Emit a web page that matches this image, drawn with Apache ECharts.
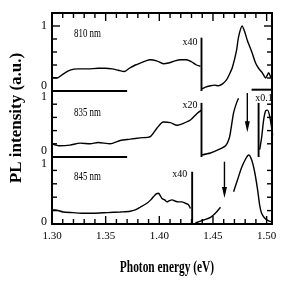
<!DOCTYPE html>
<html><head><meta charset="utf-8">
<script src="https://cdn.jsdelivr.net/npm/echarts@6/dist/echarts.min.js"></script>
<style>html,body{margin:0;padding:0;background:#fff}#c{width:290px;height:290px}</style>
</head><body><div id="c"></div>
<script>
const SERIF = '"Liberation Serif","Times New Roman",serif';
const xMin = 1.30, xMax = 1.505;
const panelNames = ['810 nm', '835 nm', '845 nm'];
const xTitle = 'Photon energy (eV)';
const yTitle = 'PL intensity (a.u.)';
const xMajorTicks = [1.30, 1.35, 1.40, 1.45, 1.50];
const xMinorTicks = [1.31, 1.32, 1.33, 1.34, 1.36, 1.37, 1.38, 1.39, 1.41, 1.42, 1.43, 1.44, 1.46, 1.47, 1.48, 1.49];
const yMinorTicks = [0.2, 0.4, 0.6, 0.8];
const yMajorTicks = [1.0];

// 810 nm panel
const seg810a = [[1.300,0.21],[1.3047,0.20],[1.3103,0.26],[1.3168,0.32],[1.3243,0.34],[1.3336,0.34],[1.3430,0.35],[1.3495,0.35],[1.3561,0.34],[1.3617,0.32],[1.3673,0.30],[1.3720,0.35],[1.3776,0.40],[1.3822,0.43],[1.3869,0.46],[1.3916,0.48],[1.3981,0.46],[1.4037,0.42],[1.4084,0.43],[1.4140,0.46],[1.4196,0.48],[1.4252,0.48],[1.4299,0.45],[1.4346,0.40],[1.4383,0.38]];
const seg810b = [[1.4393,0.03],[1.4430,0.06],[1.4477,0.08],[1.4514,0.09],[1.4551,0.08],[1.4589,0.11],[1.4626,0.17],[1.4654,0.26],[1.4682,0.37],[1.4720,0.63],[1.4738,0.83],[1.4771,1.00],[1.4794,0.92],[1.4820,0.78],[1.4866,0.58],[1.4897,0.43],[1.4925,0.35],[1.4960,0.28],[1.4991,0.20],[1.5019,0.28],[1.5037,0.22],[1.5056,0.17]];
const mark810 = [1.4393, 0.82];
const base810 = [[1.300,0],[1.370,0]];

// 835 nm panel
const seg835a = [[1.300,0.20],[1.3075,0.17],[1.3168,0.18],[1.3262,0.21],[1.3355,0.20],[1.3430,0.22],[1.3542,0.20],[1.3636,0.25],[1.3729,0.27],[1.3822,0.29],[1.3916,0.31],[1.3979,0.44],[1.4037,0.53],[1.4103,0.52],[1.4165,0.48],[1.4224,0.51],[1.4290,0.56],[1.4352,0.66],[1.4393,0.71]];
const seg835b = [[1.4393,0.03],[1.4477,0.06],[1.4551,0.11],[1.4617,0.17],[1.4654,0.30],[1.4673,0.48],[1.4692,0.67],[1.4720,0.82],[1.4738,0.89]];
const seg835c = [[1.4935,0.11],[1.4953,0.29],[1.4972,0.56],[1.4991,0.70],[1.5009,0.71],[1.5028,0.62],[1.5047,0.44],[1.5056,0.33]];
const mark835 = [1.4393, 0.82];
const mark835b = [1.4925, 0.82];
const arrow835 = [1.4820, 0.97, 0.46];
const bar835 = [[1.4860,1.02],[1.5056,1.02]];
const base835 = [[1.300,0],[1.370,0]];

// 845 nm panel
const seg845a = [[1.300,0.21],[1.3028,0.21],[1.3103,0.18],[1.3196,0.17],[1.3290,0.16],[1.3383,0.16],[1.3514,0.17],[1.3636,0.18],[1.3729,0.19],[1.3776,0.21],[1.3822,0.25],[1.3885,0.31],[1.3920,0.36],[1.3947,0.41],[1.3972,0.45],[1.3993,0.46],[1.4010,0.42],[1.4025,0.38],[1.4050,0.36],[1.4072,0.33],[1.4095,0.35],[1.4119,0.36],[1.4150,0.34],[1.4180,0.33],[1.4210,0.33],[1.4243,0.31],[1.4270,0.29],[1.4290,0.23]];
const seg845b = [[1.4336,0.015],[1.4411,0.06],[1.4477,0.10],[1.4533,0.18],[1.4570,0.25]];
const seg845c = [[1.4692,0.48],[1.4729,0.66],[1.4766,0.84],[1.4804,0.97],[1.4832,1.03],[1.4860,0.96],[1.4888,0.78],[1.4916,0.51],[1.4935,0.28],[1.4953,0.16],[1.4981,0.09],[1.5019,0.045],[1.5056,0.03]];
const mark845 = [1.4306, 0.78];
const arrow845 = [1.4607, 0.93, 0.47];

const yMaxes = [1.2, 1, 1];
const xIdx = [0, 1, 2], yIdx = [0, 2, 4];

function ln(data, gi, extra) {
  return Object.assign({
    type: 'line', xAxisIndex: xIdx[gi], yAxisIndex: yIdx[gi], data,
    symbol: 'none', showSymbol: false, clip: false, silent: true, animation: false,
    lineStyle: { color: '#000', width: 1.4 }, itemStyle: { color: '#000' }
  }, extra || {});
}
function marker(m, gi, text, position, offset) {
  return ln([[m[0], 0], { value: [m[0], m[1]], label: { show: true, position, offset, formatter: text, fontSize: 10, fontFamily: SERIF, color: '#000' } }], gi,
    { symbol: 'circle', symbolSize: 0, showSymbol: true, lineStyle: { color: '#000', width: 1.9 } });
}
function arrow(a, gi) {
  return ln([{ value: [a[0], a[1]], symbol: 'none' }, [a[0], a[2]]], gi,
    { symbol: 'triangle', symbolSize: [5, 11], symbolRotate: 180, showSymbol: true, lineStyle: { color: '#000', width: 1.4 } });
}
// tick marks drawn through the axes' own scales (api.coord)
function ticks(gi, side, values, len) {
  const data = values.map(v => side === 'top' ? [v, yMaxes[gi]] : side === 'bottom' ? [v, 0] : side === 'left' ? [xMin, v] : [xMax, v]);
  return {
    type: 'custom', xAxisIndex: xIdx[gi], yAxisIndex: yIdx[gi], silent: true, animation: false, clip: false, data,
    renderItem: (params, api) => {
      const p = api.coord([api.value(0), api.value(1)]);
      const d = side === 'top' ? [0, len] : side === 'bottom' ? [0, -len] : side === 'left' ? [len, 0] : [-len, 0];
      return { type: 'line', shape: { x1: p[0], y1: p[1], x2: p[0] + d[0], y2: p[1] + d[1] }, style: { stroke: '#000', lineWidth: 1.4 } };
    }
  };
}

function xAx(gi, position, labels) {
  return { gridIndex: gi, type: 'value', position, min: xMin, max: xMax, interval: 0.05,
    axisLine: { show: true, onZero: false, lineStyle: { color: '#000', width: 2 } },
    axisTick: { show: false },
    axisLabel: { show: labels, margin: 7, fontSize: 11, fontFamily: SERIF, color: '#000',
      formatter: v => v > 1.501 ? '' : v.toFixed(2) },
    splitLine: { show: false } };
}
const richStyles = {};
[4, 10, 12, 14].forEach(h => richStyles['r' + h] = { fontSize: 12, fontFamily: SERIF, color: '#000', lineHeight: h });
function lab(txt, lh, dir) {
  if (!lh) return txt;
  return dir === 'up' ? `{r${lh}|${txt}}\n{r${lh}| }` : `{r${lh}| }\n{r${lh}|${txt}}`;
}
function yL(gi, one, zero) {
  return { gridIndex: gi, type: 'value', position: 'left', min: 0, max: yMaxes[gi], interval: 0.2,
    axisLine: { show: true, onZero: false, lineStyle: { color: '#000', width: 2 } },
    axisTick: { show: false },
    axisLabel: { margin: 5, fontSize: 12, fontFamily: SERIF, color: '#000', rich: richStyles,
      formatter: v => Math.abs(v - 1) < 1e-6 ? lab('1', one[0], one[1]) : (Math.abs(v) < 1e-6 ? lab('0', zero[0], zero[1]) : '') },
    splitLine: { show: false } };
}
function yR(gi) {
  return { gridIndex: gi, type: 'value', position: 'right', min: 0, max: yMaxes[gi], interval: 0.2,
    axisLine: { show: true, onZero: false, lineStyle: { color: '#000', width: 2 } },
    axisTick: { show: false }, axisLabel: { show: false }, splitLine: { show: false } };
}

const tickSeries = [
  ticks(0, 'top', xMinorTicks, 5), ticks(0, 'top', xMajorTicks, 8),
  ticks(2, 'bottom', xMinorTicks, 5), ticks(2, 'bottom', xMajorTicks, 8),
  ticks(0, 'left', yMinorTicks, 5), ticks(0, 'left', yMajorTicks, 8),
  ticks(0, 'right', yMinorTicks, 5), ticks(0, 'right', yMajorTicks, 8),
  ticks(1, 'left', yMinorTicks, 5), ticks(1, 'right', yMinorTicks, 5),
  ticks(2, 'left', yMinorTicks, 5), ticks(2, 'right', yMinorTicks, 5)
];

const chart = echarts.init(document.getElementById('c'), null, { renderer: 'canvas' });
chart.setOption({
  animation: false,
  backgroundColor: '#fff',
  grid: [
    { left: 52, right: 18, top: 13, height: 78 },
    { left: 52, right: 18, top: 91, height: 66 },
    { left: 52, right: 18, top: 157, height: 67 }
  ],
  xAxis: [
    xAx(0, 'top', false),
    { gridIndex: 1, type: 'value', min: xMin, max: xMax, show: false },
    xAx(2, 'bottom', true)
  ],
  yAxis: [ yL(0, [0], [10, 'up']), yR(0), yL(1, [12, 'down'], [12, 'up']), yR(1), yL(2, [14, 'down'], [4, 'up']), yR(2) ],
  series: tickSeries.concat([
    ln(seg810a, 0, { smooth: 0.25 }), ln(seg810b, 0, { smooth: 0.25 }),
    marker(mark810, 0, 'x40', 'left', [1, 5]),
    ln(base810, 0, { lineStyle: { color: '#000', width: 2 } }),
    ln(seg835a, 1, { smooth: 0.25 }), ln(seg835b, 1, { smooth: 0.25 }), ln(seg835c, 1, { smooth: 0.25 }),
    marker(mark835, 1, 'x20', 'left', [1, 2]),
    marker(mark835b, 1, 'x0.1', 'top', [5.5, 5]),
    arrow(arrow835, 1),
    ln(bar835, 1, { lineStyle: { color: '#000', width: 2 } }),
    ln(base835, 1, { lineStyle: { color: '#000', width: 2 } }),
    ln(seg845a, 2, { smooth: 0.25 }), ln(seg845b, 2, { smooth: 0.25 }), ln(seg845c, 2, { smooth: 0.25 }),
    marker(mark845, 2, 'x40', 'left', [0, 3]),
    arrow(arrow845, 2)
  ]),
  graphic: [
    { type: 'text', x: 74, y: 34, scaleX: 0.74, style: { text: panelNames[0], fontSize: 12, fontFamily: SERIF, fill: '#000', verticalAlign: 'middle' } },
    { type: 'text', x: 74, y: 113, scaleX: 0.74, style: { text: panelNames[1], fontSize: 12, fontFamily: SERIF, fill: '#000', verticalAlign: 'middle' } },
    { type: 'text', x: 74, y: 177, scaleX: 0.74, style: { text: panelNames[2], fontSize: 12, fontFamily: SERIF, fill: '#000', verticalAlign: 'middle' } },
    { type: 'text', x: 167, y: 268, scaleX: 0.67, style: { text: xTitle, fontSize: 17, fontWeight: 'bold', fontFamily: SERIF, fill: '#000', align: 'center', verticalAlign: 'middle' } },
    { type: 'text', x: 17, y: 118, rotation: Math.PI / 2, style: { text: yTitle, fontSize: 17, fontWeight: 'bold', fontFamily: SERIF, fill: '#000', align: 'center', verticalAlign: 'middle' } }
  ]
});
</script></body></html>
